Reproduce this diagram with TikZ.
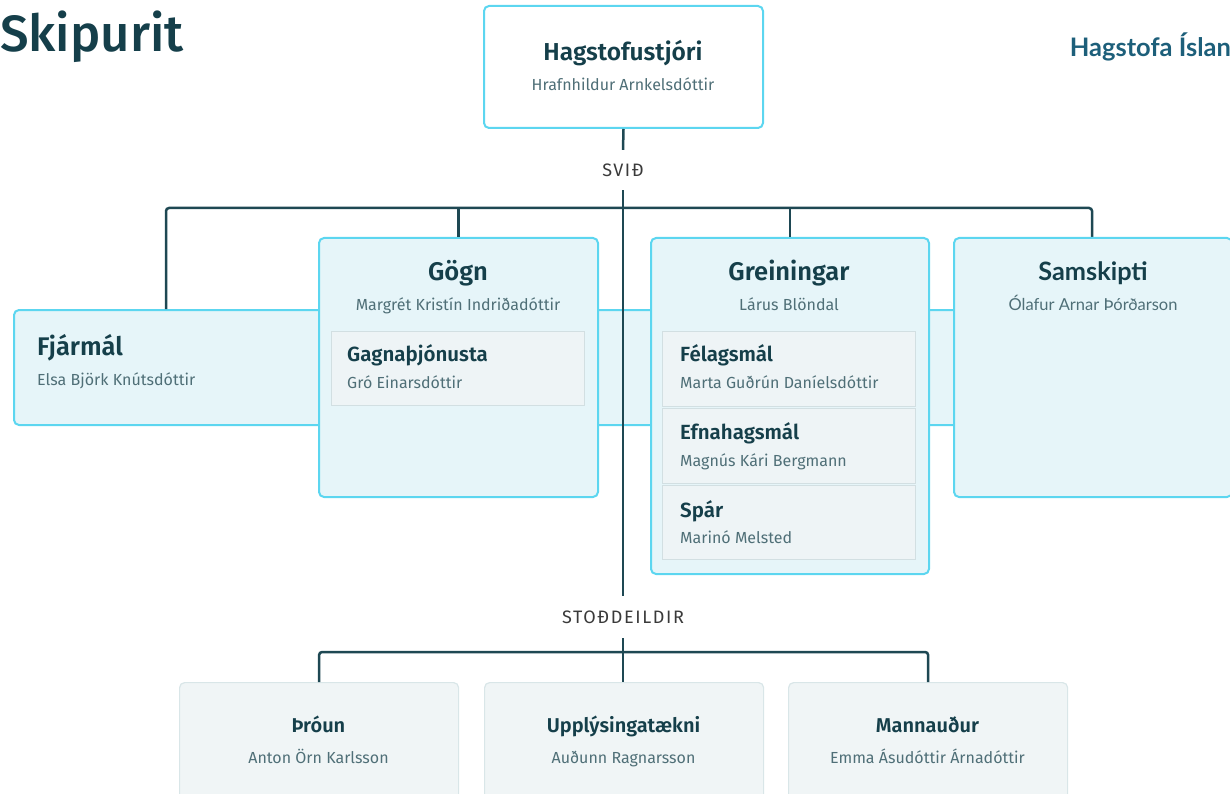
\documentclass[tikz,border=0pt]{standalone}
\usepackage{fontspec}
\setmainfont{Fira Sans}[BoldFont={Fira Sans SemiBold}]
\newfontfamily\firamed{Fira Sans Medium}
\newfontfamily\latofont{Lato}
\definecolor{titlec}{HTML}{153F4A}
\definecolor{namec}{HTML}{4F6F77}
\definecolor{linec}{HTML}{1E4853}
\definecolor{cyanb}{HTML}{5CD6F0}
\definecolor{boxfill}{HTML}{E6F5F9}
\definecolor{infill}{HTML}{EEF4F6}
\definecolor{inb}{HTML}{D2DFE2}
\definecolor{bfill}{HTML}{F0F5F6}
\definecolor{bb}{HTML}{D9E6E8}
\definecolor{lblc}{HTML}{3A3A3A}
\definecolor{brandc}{HTML}{1D5F7A}
\begin{document}
\begin{tikzpicture}[x=1pt,y=-1pt,
  frame/.style={draw=cyanb, line width=2pt, fill=boxfill, rounded corners=5pt, inner sep=0pt, anchor=north west},
  inbox/.style={draw=inb, line width=1.2pt, fill=infill, inner sep=0pt, anchor=north west},
  lowbox/.style={draw=bb, line width=1.2pt, fill=bfill, rounded corners=5pt, inner sep=0pt, anchor=north west},
  conn/.style={draw=linec, line width=2.5pt},
  ttl/.style={text=titlec, font=\bfseries\fontsize{25.5}{29}\selectfont, anchor=base, inner sep=0pt},
  subttl/.style={text=titlec, font=\bfseries\fontsize{20.5}{24}\selectfont, anchor=base west, inner sep=0pt},
  lowttl/.style={text=titlec, font=\bfseries\fontsize{20}{24}\selectfont, anchor=base, inner sep=0pt},
  nm/.style={text=namec, font=\fontsize{16}{19}\selectfont, anchor=base, inner sep=0pt},
  nmw/.style={nm, anchor=base west},
  lbl/.style={text=lblc, font=\fontsize{18}{21}\selectfont\addfontfeatures{LetterSpace=9}, inner sep=0pt}
]
\useasboundingbox (0,0) rectangle (1230,794);
\clip (0,0) rectangle (1230,794);

% titles
\node[anchor=base west, inner sep=0pt, text=titlec, font=\firamed\fontsize{51}{56}\selectfont] (skip) at (0,52) {Skipurit};
\node[anchor=base east, inner sep=0pt, text=brandc, font=\latofont\bfseries\fontsize{25.5}{29}\selectfont] (brand) at (1231,57) {Hagstofa Íslan};

% band (Fjármál)
\node[frame, minimum width=1000pt, minimum height=115pt] (fjar) at (13,309) {};

% top box
\node[frame, fill=white, minimum width=279pt, minimum height=122pt] (top) at (483,5) {};

% labels
\node[lbl, minimum height=40pt] (svid) at (623,170) {SVIÐ};
\node[lbl, minimum height=42pt] (stod) at (623,617) {STOÐDEILDIR};

% bus
\coordinate (b1) at (166,208);
\coordinate (b2) at (1092,208);
\draw[conn] (top.south) -- (svid.north);
\draw[conn, rounded corners=3pt] (fjar.north -| b1) -- (b1) -- (b2) -- (b2 |- 0,237);

% section boxes
\node[frame, minimum width=279pt, minimum height=259pt] (gogn) at (318,237) {};
\node[frame, minimum width=278pt, minimum height=336pt] (grein) at (650,237) {};
\node[frame, minimum width=278pt, minimum height=259pt] (sam) at (953,237) {};
\draw[conn] (gogn.north) -- (gogn.north |- b1);
\draw[conn] (grein.north) -- (grein.north |- b1);

% inner boxes
\node[inbox, minimum width=253pt, minimum height=74pt] (gagna) at (331,331) {};
\node[inbox, minimum width=253pt, minimum height=75pt] (fel) at (662,331) {};
\node[inbox, minimum width=253pt, minimum height=75pt] (efn) at (662,408) {};
\node[inbox, minimum width=253pt, minimum height=74pt] (spar) at (662,485) {};

% bottom boxes
\node[lowbox, minimum width=279pt, minimum height=130pt] (throun) at (179,682) {};
\node[lowbox, minimum width=279pt, minimum height=130pt] (upp) at (484,682) {};
\node[lowbox, minimum width=279pt, minimum height=130pt] (mann) at (788,682) {};
\coordinate (b3) at (623,652);
\draw[conn, rounded corners=3pt] (throun.north) -- (throun.north |- b3) -- (mann.north |- b3) -- (mann.north);
\draw[conn] (stod.south) -- (stod.south |- upp.north);
\draw[conn] (svid.south) -- (stod.north);

% texts
\node[ttl, font=\bfseries\fontsize{24.5}{29}\selectfont] (t0) at (623,61) {Hagstofustjóri};
\node[nm] (n0) at (623,91) {Hrafnhildur Arnkelsdóttir};

\node[ttl, anchor=base west] (t1) at (37,355) {Fjármál};
\node[nmw] (n1) at (37,385) {Elsa Björk Knútsdóttir};

\node[ttl] (t2) at (458,280) {Gögn};
\node[nm] (n2) at (458,310) {Margrét Kristín Indriðadóttir};
\node[subttl] (t2a) at (347,361) {Gagnaþjónusta};
\node[nmw] (n2a) at (347,388) {Gró Einarsdóttir};

\node[ttl] (t3) at (789,280) {Greiningar};
\node[nm] (n3) at (789,310) {Lárus Blöndal};
\node[subttl] (t3a) at (680,361) {Félagsmál};
\node[nmw] (n3a) at (680,388) {Marta Guðrún Daníelsdóttir};
\node[subttl] (t3b) at (680,439) {Efnahagsmál};
\node[nmw] (n3b) at (680,466) {Magnús Kári Bergmann};
\node[subttl] (t3c) at (680,517) {Spár};
\node[nmw] (n3c) at (680,543) {Marinó Melsted};

\node[ttl, font=\latofont\bfseries\fontsize{25.3}{29}\selectfont] (t4) at (1093,280) {Samskipti};
\node[nm, font=\latofont\fontsize{16.5}{19}\selectfont] (n4) at (1093,310) {Ólafur Arnar Þórðarson};

\node[lowttl] (t5) at (318.5,732) {Þróun};
\node[nm] (n5) at (318.5,763) {Anton Örn Karlsson};
\node[lowttl] (t6) at (623.5,732) {Upplýsingatækni};
\node[nm] (n6) at (623.5,763) {Auðunn Ragnarsson};
\node[lowttl] (t7) at (927.5,732) {Mannauður};
\node[nm] (n7) at (927.5,763) {Emma Ásudóttir Árnadóttir};
\end{tikzpicture}
\end{document}
